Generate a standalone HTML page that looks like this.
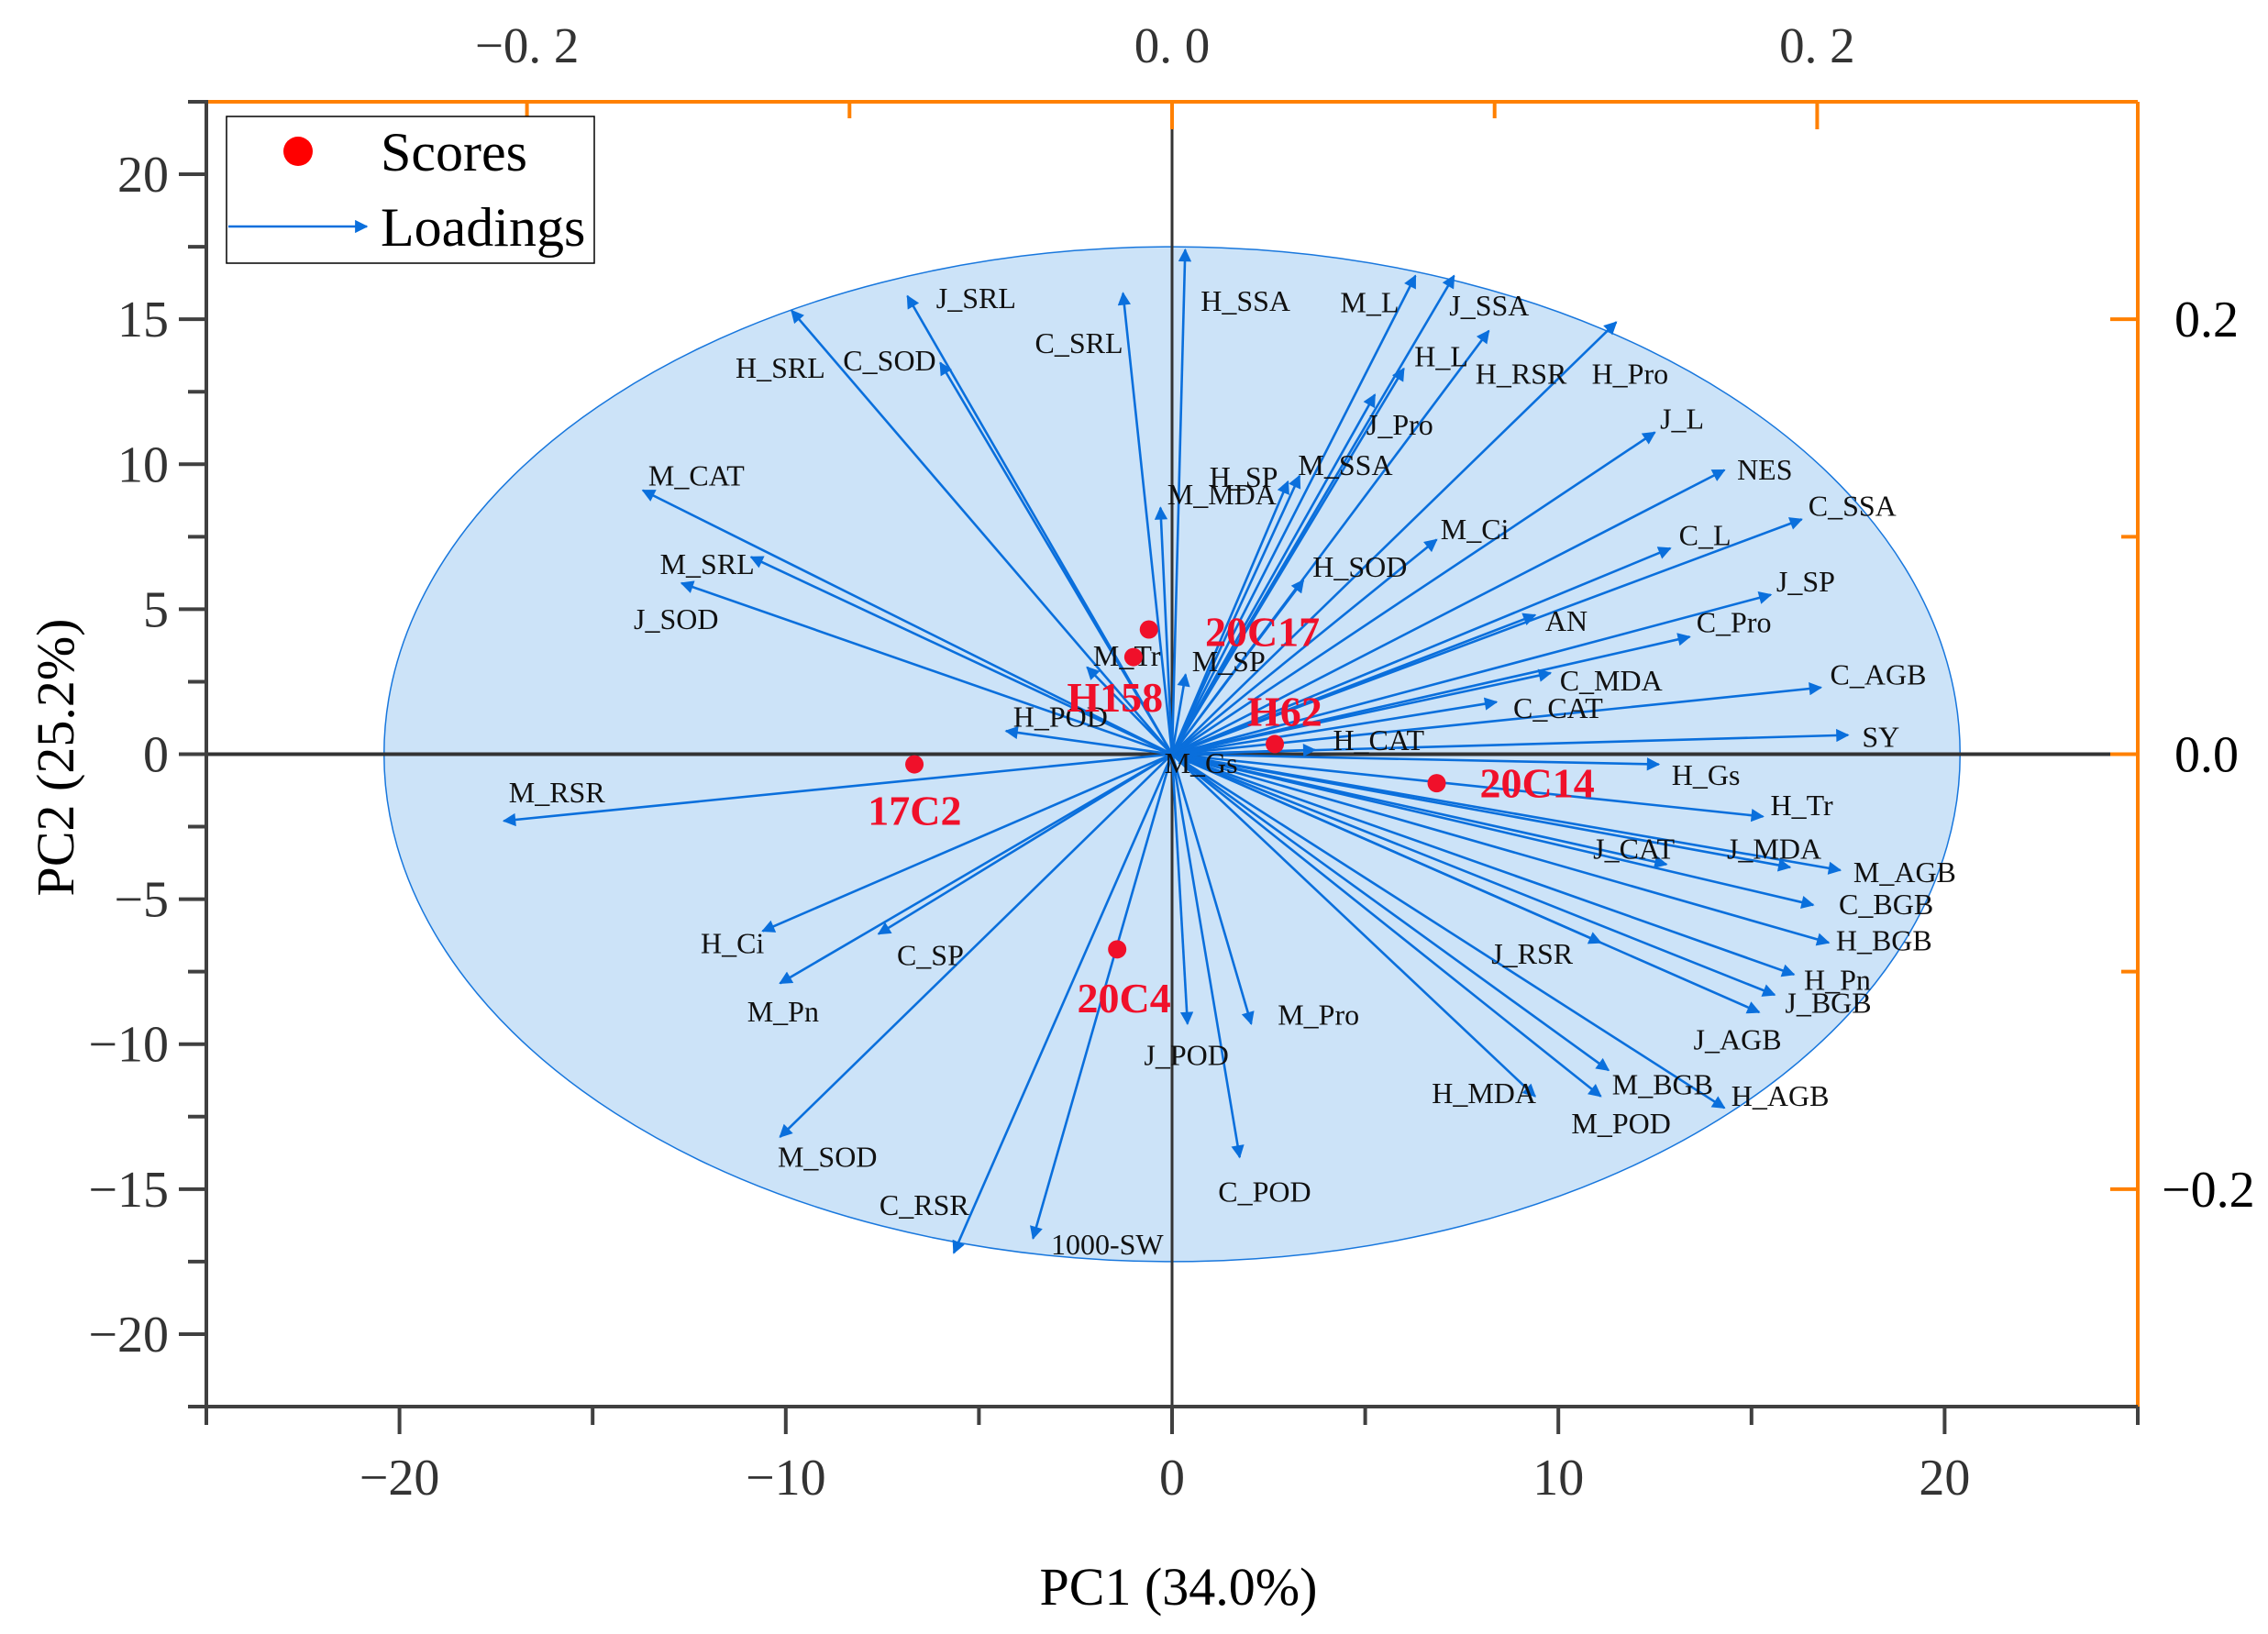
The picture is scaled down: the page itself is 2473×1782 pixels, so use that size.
<!DOCTYPE html>
<html><head><meta charset="utf-8">
<style>
html,body{margin:0;padding:0;background:#fff;}
svg{display:block;}
text{font-family:"Liberation Serif",serif;}
</style></head>
<body>
<svg id="chart" width="2473" height="1782" viewBox="0 0 2473 1782" xmlns="http://www.w3.org/2000/svg">
<defs>
<marker id="ah" viewBox="0 0 10 10" refX="9" refY="5" markerWidth="6.5" markerHeight="5.5" orient="auto" markerUnits="strokeWidth">
<path d="M0,0 L10,5 L0,10 Z" fill="#0a6fdc"/></marker>
</defs>
<g id="layer"></g>
</svg>
<script>
// ---- data ----
const loadNames = ["J_SRL","H_SRL","C_SOD","C_SRL","H_SSA","M_L","J_SSA","H_L","H_RSR","H_Pro","J_Pro","J_L","NES","C_SSA","C_L","J_SP","AN","C_Pro","C_MDA","C_CAT","C_AGB","SY","H_CAT","M_Gs","H_Gs","H_Tr","J_CAT","J_MDA","M_AGB","C_BGB","H_BGB","H_Pn","J_BGB","J_AGB","J_RSR","H_MDA","M_BGB","H_AGB","M_POD","M_Pro","J_POD","C_POD","1000-SW","C_RSR","M_SOD","M_Pn","C_SP","H_Ci","M_RSR","J_SOD","M_SRL","M_CAT","H_POD","M_Tr","M_SP","H_SP","M_SSA","M_MDA","H_SOD","M_Ci"];
const loadX = [-6.85,-9.85,-6.0,-1.27,0.34,6.3,7.3,6.0,8.2,11.5,5.25,12.5,14.3,16.3,12.9,15.5,9.4,13.4,9.8,8.4,16.8,17.5,3.7,0.5,12.6,15.3,12.8,16.0,17.3,16.6,17.0,16.1,15.6,15.2,11.1,9.4,11.3,14.3,11.1,2.05,0.4,1.75,-3.6,-5.65,-10.15,-10.15,-7.6,-10.6,-17.3,-12.7,-10.9,-13.7,-4.3,-2.2,0.35,3.0,3.3,-0.3,3.4,6.85];
const loadY = [15.8,15.3,13.5,15.9,17.4,16.5,16.5,13.3,14.6,14.9,12.4,11.1,9.8,8.1,7.1,5.5,4.8,4.05,2.8,1.8,2.3,0.66,0.15,-0.3,-0.35,-2.15,-3.8,-3.9,-4.0,-5.2,-6.5,-7.6,-8.3,-8.9,-6.5,-11.8,-10.9,-12.2,-11.8,-9.3,-9.3,-13.9,-16.7,-17.2,-13.2,-7.9,-6.2,-6.1,-2.3,5.9,6.8,9.1,0.8,3.0,2.75,9.4,9.6,8.5,6.0,7.4];
const scoreNames = ["20C17","H158","H62","20C14","17C2","20C4"];
const scoreX = [-0.6,-1.0,2.66,6.85,-6.67,-1.42];
const scoreY = [4.3,3.35,0.35,-1.0,-0.35,-6.73];
const xTicks = [-20,-10,0,10,20];
const yTicks = [-20,-15,-10,-5,0,5,10,15,20];
const topTicks = [-0.2,0.0,0.2];
const topTickLabels = ["\u22120. 2","0. 0","0. 2"];
const rightTicks = [-0.2,0.0,0.2];
const rightTickLabels = ["\u22120.2","0.0","0.2"];
const ellipseR = [20.4,17.5];
// ---- layout (label positions in reference px, not data) ----
const loadLabelPos = [[644,205],[506,253],[580,248],[712,236],[826,207],[922,208],[997,210],[973,245],[1015,257],[1095,257],[940,292],[1142,288],[1195,323],[1244,348],[1155,368],[1222,400],[1063,427],[1167,428],[1073,468],[1041,487],[1259,464],[1281,507],[917,509],[801,525],[1150,533],[1218,554],[1096,584],[1188,584],[1275,600],[1265,622],[1263,647],[1241,674],[1228,690],[1165,715],[1026,656],[985,752],[1109,746],[1191,754],[1081,773],[879,698],[787,726],[838,820],[723,856],[605,829],[535,796],[514,696],[617,657],[482,649],[350,545],[436,426],[454,388],[446,327],[697,493],[752,451],[820,455],[832,328],[893,320],[803,340],[903,390],[991,364]];
const scoreLabelPos = [[829,435],[734,480],[858,490],[1018,539],[597,558],[741,687]];

const X0=225,X1=2331,Y0=111,Y1=1534;
const xmin=-25,xmax=25,ymin=-22.5,ymax=22.5;
const xs=v=>X0+(v-xmin)/(xmax-xmin)*(X1-X0);
const ys=v=>Y1-(v-ymin)/(ymax-ymin)*(Y1-Y0);
const topX=v=>xs(v/0.2*16.7);
const rightY=v=>ys(v/0.2*15.0);
const S=1.585;
const NS="http://www.w3.org/2000/svg";
const layer=document.getElementById('layer');
function mk(tag,attrs,parent){const e=document.createElementNS(NS,tag);for(const k in attrs)e.setAttribute(k,attrs[k]);(parent||layer).appendChild(e);return e;}

// ellipse
let el=mk('ellipse',{cx:xs(0),cy:ys(0),rx:xs(ellipseR[0])-xs(0),ry:ys(0)-ys(ellipseR[1]),fill:'#cce3f8',stroke:'#1877dd','stroke-width':1.5});



// zero lines
el=mk('line',{x1:xs(0),y1:Y0,x2:xs(0),y2:Y1,stroke:'#333','stroke-width':3});


el=mk('line',{x1:X0,y1:ys(0),x2:X1-20,y2:ys(0),stroke:'#333','stroke-width':4});



// loadings
for(let i=0;i<loadNames.length;i++){
  const a=mk('line',{x1:xs(0),y1:ys(0),x2:xs(loadX[i]),y2:ys(loadY[i]),stroke:'#0a6fdc','stroke-width':2.6,'marker-end':'url(#ah)'});
  
  
}
for(let i=0;i<loadNames.length;i++){
  const p=loadLabelPos[i];
  const t=mk('text',{x:p[0]*S,y:p[1]*S+11,'font-size':32,fill:'#111'});
  t.textContent=loadNames[i];
  
  
}
// scores
for(let i=0;i<scoreNames.length;i++){
  const c=mk('circle',{cx:xs(scoreX[i]),cy:ys(scoreY[i]),r:10,fill:'#f0102a'});
  
  
  const p=scoreLabelPos[i];
  const t=mk('text',{x:p[0]*S,y:p[1]*S+15,'font-size':46,'font-weight':'bold',fill:'#f0102a'});
  t.textContent=scoreNames[i];
  
  
}

// axes frame
el=mk('line',{x1:X0,y1:Y0,x2:X1,y2:Y0,stroke:'#ff8000','stroke-width':4});


el=mk('line',{x1:X1,y1:Y0,x2:X1,y2:Y1,stroke:'#ff8000','stroke-width':4});


el=mk('line',{x1:X0,y1:Y0-2,x2:X0,y2:Y1,stroke:'#404040','stroke-width':4});


el=mk('line',{x1:X0-2,y1:Y1,x2:X1,y2:Y1,stroke:'#404040','stroke-width':4});



// bottom ticks
for(let v=-25;v<=25;v+=5){
  const major=v%10===0;
  el=mk('line',{x1:xs(v),y1:Y1,x2:xs(v),y2:Y1+(major?30:20),stroke:'#404040','stroke-width':4});
  
  
}
xTicks.forEach(v=>{
  const t=mk('text',{x:xs(v),y:1630,'font-size':56,fill:'#333','text-anchor':'middle'});
  t.textContent=v<0?'\u2212'+Math.abs(v):String(v);
  
  
});
// left ticks
for(let v=-22.5;v<=22.5;v+=2.5){
  const major=Math.abs(v%5)<1e-9;
  el=mk('line',{x1:X0-(major?30:20),y1:ys(v),x2:X0,y2:ys(v),stroke:'#404040','stroke-width':4});
  
  
}
yTicks.forEach(v=>{
  const t=mk('text',{x:184,y:ys(v)+19,'font-size':56,fill:'#333','text-anchor':'end'});
  t.textContent=v<0?'\u2212'+Math.abs(v):String(v);
  
  
});
// top ticks (inward)
[-0.3,-0.2,-0.1,0,0.1,0.2,0.3].forEach(v=>{
  const xx=topX(v); if(xx<X0-1||xx>X1+1) return;
  const major=Math.abs(Math.round(v*10))%2===0;
  el=mk('line',{x1:xx,y1:Y0,x2:xx,y2:Y0+(major?30:18),stroke:'#ff8000','stroke-width':4});
  
  
});
topTicks.forEach((v,i)=>{
  const t=mk('text',{x:topX(v),y:68,'font-size':55,fill:'#333','text-anchor':'middle'});
  t.textContent=topTickLabels[i];
  
  
});
// right ticks (inward)
[-0.2,-0.1,0,0.1,0.2].forEach(v=>{
  const major=Math.abs(Math.round(v*10))%2===0;
  el=mk('line',{x1:X1-(major?30:18),y1:rightY(v),x2:X1,y2:rightY(v),stroke:'#ff8000','stroke-width':4});
  
  
});
rightTicks.forEach((v,i)=>{
  const t=mk('text',{x:v<0?2357:2371,y:rightY(v)+19,'font-size':56,fill:'#000'});
  t.textContent=rightTickLabels[i];
  
  
});
// axis titles
el=mk('text',{x:1285,y:1750,'font-size':58,fill:'#000','text-anchor':'middle'});
el.textContent='PC1 (34.0%)';


el=mk('text',{x:0,y:0,'font-size':58,fill:'#000','text-anchor':'middle',transform:'translate(80,826) rotate(-90)'});
el.textContent='PC2 (25.2%)';



// legend
const lg=mk('g',{});


el=mk('rect',{x:247,y:127,width:401,height:160,fill:'#fff',stroke:'#000','stroke-width':1.5},lg);


el=mk('circle',{cx:325,cy:165,r:16,fill:'#ff0000'},lg);


el=mk('text',{x:415,y:186,'font-size':60,fill:'#000'},lg);
el.textContent='Scores';


el=mk('line',{x1:249,y1:247,x2:400,y2:247,stroke:'#0a6fdc','stroke-width':2.6,'marker-end':'url(#ah)'},lg);


el=mk('text',{x:415,y:268,'font-size':60,fill:'#000'},lg);
el.textContent='Loadings';


</script>
</body></html>
